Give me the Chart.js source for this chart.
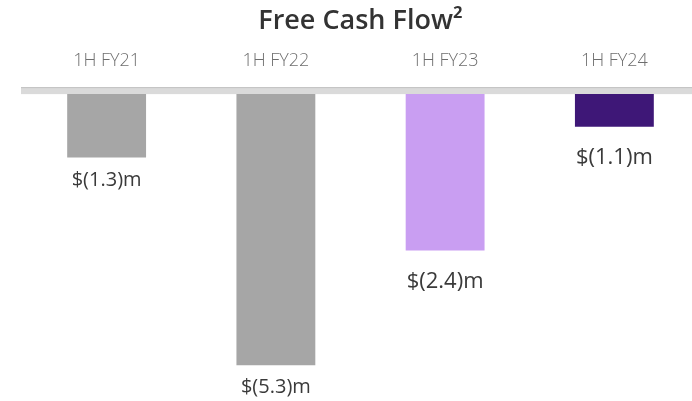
<!DOCTYPE html>
<html>
<head>
<meta charset="utf-8">
<script src="https://cdn.jsdelivr.net/npm/chart.js@4"></script>
<style>
  html, body { margin: 0; padding: 0; background: #fff; overflow: hidden; }
  .wrap { width: 699px; height: 401px; }
</style>
</head>
<body>
<div class="wrap"><canvas class="fcf-chart"></canvas></div>
<script>
const periods = ["1H FY21", "1H FY22", "1H FY23", "1H FY24"];
// bar lengths as drawn in the source slide (it is not drawn to scale)
const barHeights = [-1.24, -5.3, -3.06, -0.64];
const valueLabels = ["$(1.3)m", "$(5.3)m", "$(2.4)m", "$(1.1)m"];

const barColors = ["#a6a6a6", "#a6a6a6", "#c99ef2", "#3e1777"];
const labelSizes = [20, 20, 22, 22];
const labelGaps = [23, 22, 31, 31];

// grey band sitting on top of the zero line
const baseBand = {
  id: "baseBand",
  beforeDatasetsDraw(chart) {
    let ctx = chart.ctx;
    let area = chart.chartArea;
    let y0 = chart.scales.y.getPixelForValue(0);
    ctx.save();
    ctx.fillStyle = "#dadada";
    ctx.fillRect(area.left - 1, y0 - 7, area.right - area.left + 1, 7);
    ctx.fillStyle = "#c4c4c4";
    ctx.fillRect(area.left - 1, y0 - 7, area.right - area.left + 1, 1);
    ctx.restore();
  }
};

const valueText = {
  id: "valueText",
  afterDatasetsDraw(chart) {
    let ctx = chart.ctx;
    let meta = chart.getDatasetMeta(0);
    ctx.save();
    ctx.fillStyle = "#3a3a3a";
    ctx.textAlign = "center";
    ctx.textBaseline = "middle";
    meta.data.forEach((bar, i) => {
      ctx.font = labelSizes[i] + "px 'Open Sans', sans-serif";
      ctx.fillText(valueLabels[i], bar.x, bar.y + labelGaps[i]);
    });
    ctx.restore();
  }
};

let fcfChart = new Chart(document.querySelector(".fcf-chart").getContext("2d"), {
  type: "bar",
  data: {
    labels: periods,
    datasets: [{
      label: "Free Cash Flow",
      data: barHeights,
      backgroundColor: barColors,
      borderWidth: 0,
      barPercentage: 0.466,
      categoryPercentage: 1,
    }]
  },
  options: {
    responsive: true,
    maintainAspectRatio: false,
    animation: { duration: 0 },
    layout: { padding: { left: 22, right: 0, top: 0, bottom: 0 } },
    plugins: {
      legend: { display: false },
      tooltip: { enabled: false },
      title: {
        display: true,
        text: "Free Cash Flow²",
        color: "#333333",
        font: { family: "'Open Sans', sans-serif", size: 27, weight: "600", lineHeight: 0.5 },
        padding: { top: 15, bottom: 0 },
      },
    },
    scales: {
      x: {
        position: "top",
        grid: { display: false, drawTicks: false },
        border: { display: false },
        ticks: {
          color: "#6e6e6e",
          font: { family: "'Open Sans', sans-serif", size: 18, weight: "300" },
          padding: 22,
        },
      },
      y: {
        display: false,
        min: -6,
        max: 0,
      }
    }
  },
  plugins: [baseBand, valueText]
});
</script>
</body>
</html>
